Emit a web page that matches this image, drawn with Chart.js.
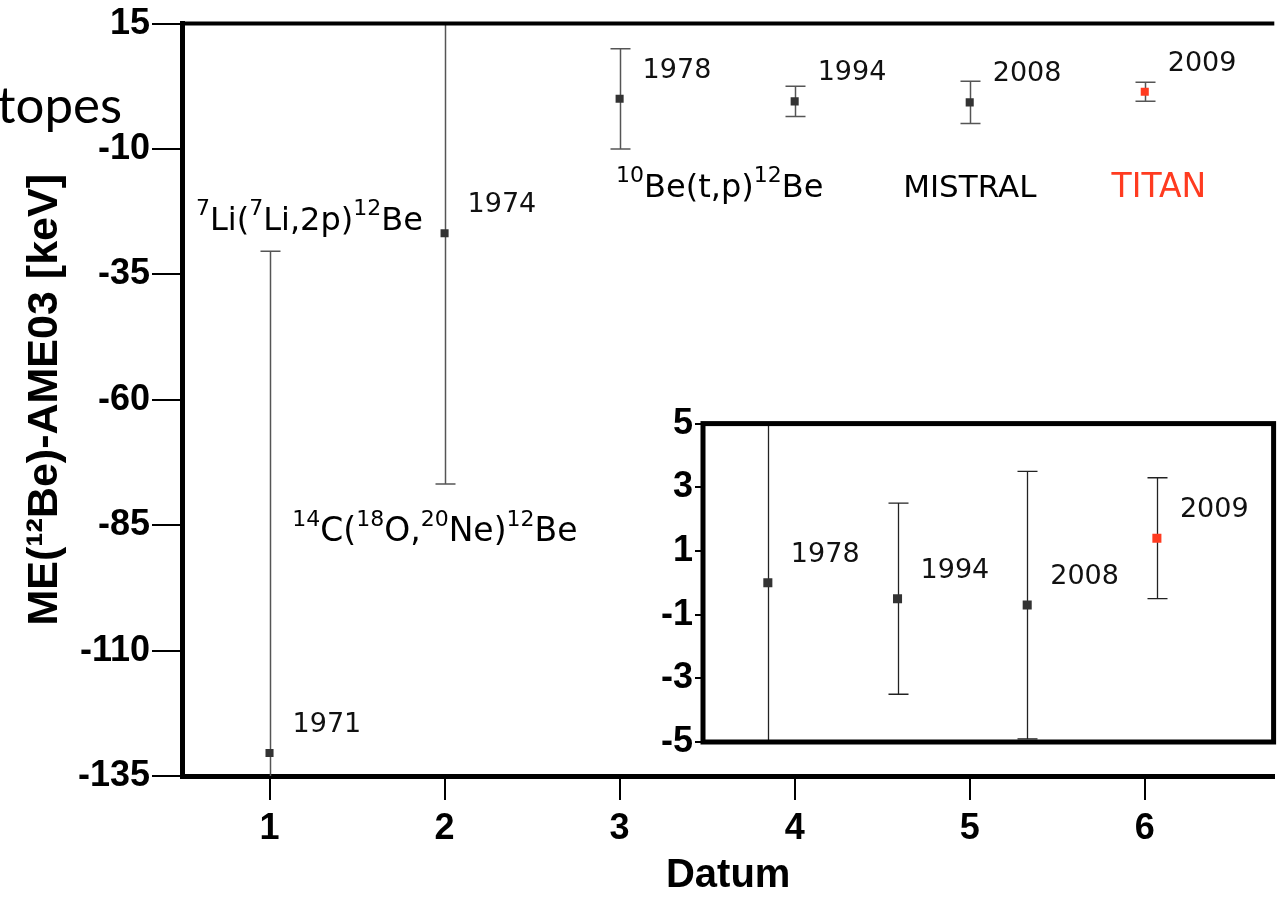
<!DOCTYPE html>
<html>
<head>
<meta charset="utf-8">
<script src="https://cdn.jsdelivr.net/npm/chart.js@4.4.1/dist/chart.umd.min.js"></script>
<style>
  html, body { margin: 0; padding: 0; background: #fff; }
  #wrap { position: relative; width: 1280px; height: 898px; overflow: hidden; background: #fff; }
  #mainChart { position: absolute; left: 0; top: 0; }
  #insetChart { position: absolute; left: 620px; top: 400px; }
</style>
</head>
<body>
<div id="wrap">
  <canvas id="mainChart" width="1280" height="898"></canvas>
  <canvas id="insetChart" width="660" height="390"></canvas>
</div>
<script>
// data
var datum = [1, 2, 3, 4, 5, 6];
var years = ['1971', '1974', '1978', '1994', '2008', '2009'];
var meValues = [-130.4, -26.8, 0.0, -0.5, -0.7, 1.4];
var meErrors = [100, 50, 10, 3.0, 4.2, 1.9];
var xTicks = [1, 2, 3, 4, 5, 6];
var yTicks = [15, -10, -35, -60, -85, -110, -135];

// inset shows the last four measurements
var insetX = [1, 2, 3, 4];
var insetYTicks = [5, 3, 1, -1, -3, -5];

var reactionLabels = ['^{7}Li(^{7}Li,2p)^{12}Be', '^{14}C(^{18}O,^{20}Ne)^{12}Be', '^{10}Be(t,p)^{12}Be', 'MISTRAL', 'TITAN'];

var DARK = '#333333';
var RED = '#ff3b20';

function pointColors(n) {
    var c = [];
    for (var i = 0; i < n; i++) c.push(i === n - 1 ? RED : DARK);
    return c;
}

// text with ^{..} superscripts
function drawRich(ctx, str, x, y, size, supSize, raise, color) {
    var parts = str.split(/(\^\{[^}]*\})/);
    ctx.fillStyle = color;
    ctx.textAlign = 'left';
    ctx.textBaseline = 'alphabetic';
    parts.forEach(function(p) {
        if (!p) return;
        if (p.charAt(0) === '^') {
            var t = p.slice(2, -1);
            ctx.font = supSize + 'px "DejaVu Sans"';
            ctx.fillText(t, x, y - raise);
            x += ctx.measureText(t).width;
        } else {
            ctx.font = size + 'px "DejaVu Sans"';
            ctx.fillText(p, x, y);
            x += ctx.measureText(p).width;
        }
    });
}

var errorBarPlugin = {
    id: 'errorBars',
    beforeDatasetsDraw: function(chart, args, opts) {
        var ctx = chart.ctx, area = chart.chartArea;
        var xs = chart.scales.x, ys = chart.scales.y;
        var pts = chart.data.datasets[0].data;
        ctx.save();
        ctx.beginPath();
        ctx.rect(area.left, area.top, area.right - area.left, area.bottom - area.top);
        ctx.clip();
        ctx.strokeStyle = opts.color;
        ctx.lineWidth = opts.width;
        pts.forEach(function(p, i) {
            var px = Math.round(xs.getPixelForValue(p.x)) + 0.5;
            var top = ys.getPixelForValue(p.y + opts.errors[i]);
            var bot = ys.getPixelForValue(p.y - opts.errors[i]);
            ctx.beginPath();
            ctx.moveTo(px, top); ctx.lineTo(px, bot);
            ctx.moveTo(px - opts.cap, top); ctx.lineTo(px + opts.cap, top);
            ctx.moveTo(px - opts.cap, bot); ctx.lineTo(px + opts.cap, bot);
            ctx.stroke();
        });
        ctx.restore();
    }
};

var labelPlugin = {
    id: 'labels',
    afterDatasetsDraw: function(chart, args, opts) {
        var ctx = chart.ctx;
        var xs = chart.scales.x, ys = chart.scales.y;
        var pts = chart.data.datasets[0].data;
        ctx.save();
        ctx.font = '27px "DejaVu Sans"';
        ctx.fillStyle = '#111';
        ctx.textAlign = 'left';
        ctx.textBaseline = 'alphabetic';
        pts.forEach(function(p, i) {
            ctx.fillText(opts.years[i], xs.getPixelForValue(p.x) + 23, ys.getPixelForValue(p.y) - 21);
        });
        (opts.notes || []).forEach(function(n) {
            drawRich(ctx, n.text, xs.getPixelForValue(n.x), ys.getPixelForValue(n.y), n.size, 22, 15, n.color);
        });
        ctx.restore();
    },
    afterDraw: function(chart, args, opts) {
        var ctx = chart.ctx, a = chart.chartArea;
        ctx.save();
        ctx.strokeStyle = '#000';
        if (opts.frame) {
            ctx.lineWidth = 5;
            ctx.strokeRect(a.left, a.top, a.right - a.left, a.bottom - a.top);
        } else {
            ctx.lineWidth = 4;
            ctx.beginPath();
            ctx.moveTo(a.left - 2, a.top);
            ctx.lineTo(a.right, a.top);
            ctx.stroke();
        }
        if (opts.slideText) {
            ctx.font = '51px Lato';
            ctx.fillStyle = '#000';
            ctx.textAlign = 'right';
            ctx.textBaseline = 'alphabetic';
            ctx.fillText(opts.slideText, 122, 123);
        }
        ctx.restore();
    }
};

var boldTick = { family: 'Liberation Sans', size: 36, weight: 'bold' };

document.addEventListener('DOMContentLoaded', function() {
    var ctx = document.getElementById('mainChart').getContext('2d');
    var mainChart = new Chart(ctx, {
        type: 'scatter',
        data: {
            datasets: [{
                data: datum.map(function(x, i) { return { x: x, y: meValues[i] }; }),
                pointStyle: 'rect',
                pointRadius: 5.7,
                pointBorderWidth: 0,
                pointBackgroundColor: pointColors(datum.length),
                showLine: false
            }]
        },
        options: {
            responsive: false,
            animation: false,
            devicePixelRatio: 1,
            layout: { padding: { top: 22, right: 0, left: 0, bottom: 0 } },
            plugins: {
                legend: { display: false },
                tooltip: { enabled: false },
                errorBars: { errors: meErrors, cap: 10, color: '#555', width: 1.5 },
                labels: {
                    years: years,
                    slideText: 'topes',
                    notes: [
                        { text: reactionLabels[0], x: 0.58, y: -26.2, size: 32, color: '#000' },
                        { text: reactionLabels[1], x: 1.13, y: -88.2, size: 33, color: '#000' },
                        { text: reactionLabels[2], x: 2.98, y: -19.6, size: 32, color: '#000' },
                        { text: reactionLabels[3], x: 4.62, y: -19.6, size: 31, color: '#000' },
                        { text: reactionLabels[4], x: 5.81, y: -19.6, size: 33, color: RED }
                    ]
                }
            },
            scales: {
                x: {
                    type: 'linear',
                    min: 0.5,
                    max: 6.74,
                    afterBuildTicks: function(s) { s.ticks = xTicks.map(function(v) { return { value: v }; }); },
                    afterFit: function(s) { s.height = 122; },
                    grid: { drawOnChartArea: false, drawTicks: true, tickLength: 24, color: '#000', lineWidth: 2 },
                    border: { display: true, color: '#000', width: 5 },
                    ticks: { color: '#000', font: boldTick, padding: 7, autoSkip: false, maxRotation: 0 },
                    title: { display: true, text: 'Datum', color: '#000',
                             font: { family: 'Liberation Sans', size: 40, weight: 'bold', lineHeight: 1 },
                             padding: { top: 0, bottom: 2 } }
                },
                y: {
                    type: 'linear',
                    min: -135,
                    max: 15,
                    afterBuildTicks: function(s) { s.ticks = yTicks.map(function(v) { return { value: v }; }); },
                    afterFit: function(s) { s.width = 182; },
                    grid: { drawOnChartArea: false, drawTicks: true, tickLength: 30, color: '#000', lineWidth: 2 },
                    border: { display: true, color: '#000', width: 5 },
                    ticks: { color: '#000', font: boldTick, padding: 2, autoSkip: false },
                    title: { display: true, text: 'ME(\u00b9\u00b2Be)-AME03 [keV]', color: '#000',
                             font: { family: 'Liberation Sans', size: 43, weight: 'bold', lineHeight: 1 },
                             padding: { top: 24, bottom: 0 } }
                }
            }
        },
        plugins: [errorBarPlugin, labelPlugin]
    });

    var ctx2 = document.getElementById('insetChart').getContext('2d');
    var insetVals = meValues.slice(2);
    var insetChart = new Chart(ctx2, {
        type: 'scatter',
        data: {
            datasets: [{
                data: insetX.map(function(x, i) { return { x: x, y: insetVals[i] }; }),
                pointStyle: 'rect',
                pointRadius: 6.4,
                pointBorderWidth: 0,
                pointBackgroundColor: pointColors(insetX.length),
                showLine: false
            }]
        },
        options: {
            responsive: false,
            animation: false,
            devicePixelRatio: 1,
            layout: { padding: { top: 23, right: 6, left: 0, bottom: 48 } },
            plugins: {
                legend: { display: false },
                tooltip: { enabled: false },
                errorBars: { errors: meErrors.slice(2), cap: 10, color: '#222', width: 1.3 },
                labels: { years: years.slice(2), frame: true }
            },
            scales: {
                x: { type: 'linear', min: 0.5, max: 4.9, display: false },
                y: {
                    type: 'linear',
                    min: -5,
                    max: 5,
                    afterBuildTicks: function(s) { s.ticks = insetYTicks.map(function(v) { return { value: v }; }); },
                    afterFit: function(s) { s.width = 83; },
                    grid: { drawOnChartArea: false, drawTicks: true, tickLength: 8, color: '#000', lineWidth: 2 },
                    border: { display: false },
                    ticks: { color: '#000', font: boldTick, padding: 2, autoSkip: false }
                }
            }
        },
        plugins: [{
            id: 'insetBg',
            beforeDraw: function(chart) {
                var a = chart.chartArea;
                chart.ctx.save();
                chart.ctx.fillStyle = '#fff';
                chart.ctx.fillRect(a.left, a.top, a.right - a.left, a.bottom - a.top);
                chart.ctx.restore();
            }
        }, errorBarPlugin, labelPlugin]
    });
});
</script>
</body>
</html>
